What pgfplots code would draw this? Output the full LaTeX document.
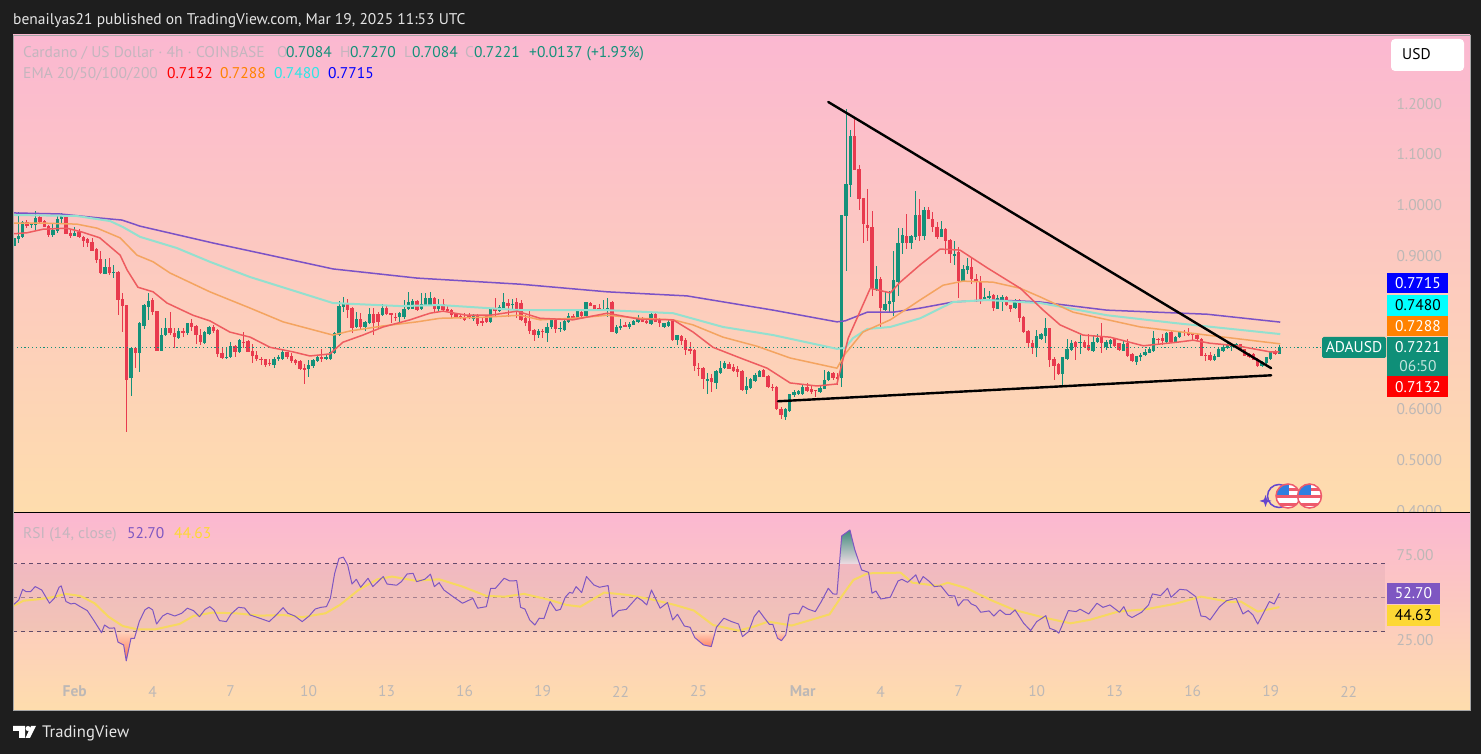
\documentclass[border=0pt]{standalone}
\usepackage{fontspec}
\setmainfont{PT Sans}
\usepackage{pgfplots}
\usepackage{pgfplotstable}
\pgfplotsset{compat=1.18}
\definecolor{bgdark}{HTML}{1E1E1E}
\definecolor{panetop}{HTML}{FBB8D1}
\definecolor{panebot}{HTML}{FEDDAD}
\definecolor{up}{HTML}{14917A}
\definecolor{down}{HTML}{E83A4E}
\definecolor{emaR}{HTML}{EE5C60}
\definecolor{emaO}{HTML}{F4A460}
\definecolor{emaC}{HTML}{93E0CF}
\definecolor{emaB}{HTML}{7B52C6}
\definecolor{rsiV}{HTML}{7E57C2}
\definecolor{rsiY}{HTML}{F7D860}
\definecolor{scaleT}{HTML}{BDB8B6}
\definecolor{legT}{HTML}{C4B6BE}
\definecolor{lastG}{HTML}{0F8F78}
\definecolor{flagR}{HTML}{EE5A6C}
\definecolor{flagB}{HTML}{2F7FE0}
\definecolor{badgeC}{HTML}{00FFFF}
\definecolor{badgeO}{HTML}{FF8200}
\definecolor{badgeB}{HTML}{0000FF}
\definecolor{badgeR}{HTML}{FF0000}
\definecolor{badgeY}{HTML}{FDD835}
\definecolor{legC}{HTML}{2CE6E6}
\newcommand\tf{\fontsize{15.5}{18}\selectfont}
\pgfplotstableread{
o h l c
.922 .957 .905 .936
.934 .987 .926 .941
.939 .970 .936 .969
.969 .972 .956 .961
.962 .967 .957 .965
.962 .990 .952 .977
.978 .982 .964 .969
.971 .972 .958 .959
.961 .962 .939 .943
.943 .965 .938 .952
.950 .979 .946 .975
.974 .985 .965 .982
.983 .983 .944 .945
.946 .952 .936 .941
.941 .958 .940 .946
.948 .954 .937 .938
.938 .941 .920 .931
.934 .937 .920 .926
.928 .936 .911 .912
.916 .918 .887 .893
.895 .911 .867 .868
.867 .895 .866 .879
.880 .898 .865 .868
.869 .884 .859 .870
.870 .872 .785 .815
.817 .828 .753 .804
.805 .805 .556 .658
.661 .723 .626 .720
.720 .723 .682 .711
.711 .772 .674 .769
.764 .808 .758 .805
.802 .828 .776 .813
.814 .819 .785 .791
.793 .794 .715 .715
.715 .759 .715 .747
.746 .779 .745 .759
.759 .791 .747 .750
.751 .759 .721 .742
.741 .759 .738 .754
.754 .759 .742 .751
.750 .770 .746 .769
.770 .777 .754 .762
.764 .766 .728 .746
.747 .758 .726 .732
.730 .754 .729 .753
.749 .764 .747 .762
.762 .766 .751 .754
.756 .757 .703 .709
.710 .723 .700 .701
.701 .721 .699 .703
.703 .733 .701 .724
.725 .726 .703 .712
.712 .738 .711 .736
.733 .753 .721 .732
.734 .736 .713 .713
.715 .728 .692 .705
.707 .715 .695 .699
.700 .703 .687 .699
.699 .700 .684 .688
.692 .699 .686 .690
.688 .703 .682 .699
.699 .707 .695 .702
.699 .716 .698 .712
.712 .713 .699 .702
.705 .710 .692 .696
.697 .700 .687 .692
.696 .698 .677 .679
.681 .690 .650 .679
.679 .697 .664 .687
.685 .699 .682 .698
.695 .707 .694 .702
.702 .718 .694 .699
.699 .707 .697 .702
.699 .723 .698 .712
.710 .753 .709 .751
.746 .813 .745 .804
.801 .821 .792 .809
.808 .817 .779 .795
.800 .802 .751 .760
.761 .792 .759 .778
.778 .789 .756 .761
.761 .774 .754 .771
.769 .800 .767 .787
.787 .800 .746 .769
.787 .791 .759 .771
.785 .808 .783 .800
.800 .805 .785 .787
.789 .789 .769 .787
.782 .789 .774 .781
.781 .792 .772 .789
.782 .815 .778 .798
.797 .830 .796 .812
.798 .817 .797 .813
.813 .815 .793 .795
.797 .828 .796 .807
.805 .828 .804 .818
.805 .830 .804 .819
.819 .821 .791 .798
.798 .817 .792 .808
.808 .817 .792 .795
.797 .804 .792 .793
.795 .797 .779 .785
.787 .789 .781 .782
.784 .787 .777 .779
.781 .789 .774 .776
.784 .789 .777 .783
.778 .787 .774 .784
.784 .787 .764 .768
.774 .779 .763 .771
.784 .785 .770 .771
.771 .800 .770 .797
.797 .818 .784 .795
.793 .805 .792 .801
.798 .828 .797 .812
.810 .817 .782 .804
.807 .817 .798 .808
.812 .818 .779 .793
.810 .815 .774 .776
.779 .785 .764 .769
.774 .798 .748 .755
.756 .758 .735 .746
.746 .757 .741 .755
.755 .757 .741 .753
.751 .769 .733 .762
.762 .777 .757 .776
.776 .776 .751 .757
.758 .772 .753 .760
.757 .776 .755 .774
.771 .789 .770 .783
.783 .787 .776 .782
.779 .795 .778 .793
.791 .795 .782 .783
.783 .812 .782 .811
.810 .812 .803 .804
.805 .806 .797 .798
.800 .807 .794 .795
.795 .815 .794 .797
.798 .818 .781 .800
.812 .813 .752 .753
.751 .766 .749 .762
.759 .777 .756 .764
.765 .772 .761 .762
.761 .772 .757 .768
.766 .776 .765 .774
.772 .785 .770 .779
.779 .781 .771 .772
.774 .777 .768 .769
.768 .789 .766 .787
.787 .789 .771 .772
.776 .779 .761 .769
.761 .770 .760 .769
.764 .776 .762 .771
.776 .777 .735 .736
.736 .747 .726 .746
.745 .746 .726 .735
.736 .741 .707 .717
.719 .733 .709 .715
.717 .718 .675 .685
.682 .692 .666 .681
.682 .683 .641 .659
.658 .672 .631 .659
.661 .669 .635 .653
.651 .677 .641 .676
.672 .696 .669 .682
.681 .696 .680 .692
.690 .694 .679 .680
.684 .689 .674 .676
.680 .685 .663 .673
.676 .677 .637 .638
.638 .664 .630 .646
.643 .661 .641 .659
.655 .671 .654 .668
.664 .677 .663 .675
.677 .679 .663 .664
.665 .667 .643 .645
.645 .650 .637 .643
.645 .646 .599 .600
.600 .604 .582 .589
.586 .602 .580 .600
.596 .631 .595 .630
.628 .638 .625 .635
.631 .639 .629 .636
.630 .648 .629 .644
.645 .652 .635 .637
.640 .648 .631 .635
.638 .639 .625 .637
.635 .646 .633 .643
.641 .677 .640 .658
.658 .675 .656 .673
.671 .674 .658 .661
.664 .672 .648 .661
.661 .982 .645 .981
.979 1.191 .871 1.042
1.041 1.149 1.018 1.137
1.137 1.175 1.070 1.070
1.072 1.081 .992 1.013
1.016 1.016 .927 .965
.963 1.034 .931 .957
.958 .990 .823 .838
.834 .881 .833 .857
.857 .861 .759 .800
.795 .833 .794 .808
.807 .833 .792 .813
.812 .911 .784 .854
.851 .956 .823 .927
.926 .956 .905 .943
.941 .983 .916 .926
.926 .943 .916 .941
.939 1.029 .933 .982
.982 1.013 .931 .941
.941 .998 .933 .991
.991 .998 .974 .975
.975 .988 .949 .958
.959 .969 .935 .939
.939 .970 .938 .954
.954 .956 .905 .931
.933 .935 .887 .905
.902 .931 .884 .906
.910 .920 .818 .853
.853 .884 .851 .876
.874 .897 .867 .881
.880 .898 .846 .856
.857 .867 .812 .852
.852 .863 .808 .816
.816 .838 .815 .821
.819 .832 .817 .823
.825 .826 .794 .800
.798 .825 .797 .818
.815 .825 .793 .821
.821 .822 .804 .805
.805 .806 .792 .798
.800 .817 .798 .815
.815 .816 .772 .779
.781 .783 .751 .753
.755 .756 .721 .730
.731 .736 .709 .720
.720 .756 .702 .744
.738 .751 .736 .748
.745 .779 .730 .759
.759 .759 .684 .698
.700 .702 .658 .686
.690 .692 .667 .669
.669 .703 .648 .702
.700 .738 .698 .718
.717 .736 .715 .731
.732 .735 .697 .723
.731 .746 .708 .732
.732 .736 .720 .723
.726 .748 .715 .717
.714 .746 .713 .732
.732 .748 .731 .741
.743 .770 .711 .730
.722 .736 .717 .732
.728 .738 .720 .736
.738 .739 .723 .724
.730 .731 .715 .717
.715 .735 .714 .728
.730 .738 .703 .705
.709 .710 .694 .695
.694 .705 .687 .704
.702 .711 .696 .707
.706 .718 .704 .712
.711 .722 .710 .718
.715 .755 .713 .740
.739 .740 .728 .736
.740 .749 .726 .734
.732 .753 .731 .751
.752 .756 .730 .732
.732 .744 .731 .743
.743 .753 .741 .752
.752 .756 .744 .751
.752 .759 .745 .747
.749 .751 .736 .747
.747 .749 .735 .738
.739 .740 .704 .705
.707 .711 .696 .705
.707 .713 .696 .697
.698 .709 .696 .705
.703 .722 .702 .718
.715 .726 .713 .723
.721 .730 .718 .726
.723 .731 .715 .728
.724 .731 .720 .728
.728 .728 .717 .718
.718 .719 .704 .705
.709 .711 .701 .703
.709 .710 .697 .698
.700 .701 .683 .686
.686 .695 .683 .694
.692 .703 .690 .702
.700 .714 .698 .713
.713 .717 .707 .708
.7084 .7270 .7084 .7221
}\candles
\pgfplotsset{
  cbar/.style n args={2}{draw=none,mark=none,forget plot,
    error bars/.cd,y dir=both,y explicit,error mark=none,
    error bar style={solid,line width=#1,draw=#2}},
  upc/.style={restrict expr to domain={\thisrow{c}-\thisrow{o}}{0:10}},
  dnc/.style={restrict expr to domain={\thisrow{c}-\thisrow{o}}{-10:-0.00001}},
}
\begin{document}
\begin{tikzpicture}[mw/.style={anchor=mid west,inner sep=0,yshift=-2.5pt}]
\fill[bgdark] (0pt,0pt) rectangle (1481pt,754pt);
\shade[top color=panetop,bottom color=panebot] (13pt,241pt) rectangle (1470pt,719pt);
\begin{axis}[
  at={(13pt,241pt)},anchor=south west,scale only axis,width=1373pt,height=478pt,
  xmin=-0.23,xmax=316.6,ymin=.3965,ymax=1.3356,
  axis line style={draw=none},tick style={draw=none},major tick length=0pt,
  xtick=\empty,
  ytick={.4,.5,.6,.7,.8,.9,1,1.1,1.2},yticklabel pos=right,
  yticklabels={0.4000,0.5000,0.6000,,,0.9000,1.0000,1.1000,1.2000},
  yticklabel style={font=\tf,text=scaleT,anchor=mid west,xshift=7pt,yshift=-2.5pt},
]
% wicks and bodies
\addplot[upc,cbar={1pt}{up}]
  table[x expr=\coordindex,y expr={(\thisrow{h}+\thisrow{l})/2},y error expr={(\thisrow{h}-\thisrow{l})/2}] {\candles};
\addplot[dnc,cbar={1pt}{down}]
  table[x expr=\coordindex,y expr={(\thisrow{h}+\thisrow{l})/2},y error expr={(\thisrow{h}-\thisrow{l})/2}] {\candles};
\addplot[upc,cbar={3.3pt}{up}]
  table[x expr=\coordindex,y expr={(\thisrow{o}+\thisrow{c})/2},y error expr={(\thisrow{c}-\thisrow{o})/2}] {\candles};
\addplot[dnc,cbar={3.3pt}{down}]
  table[x expr=\coordindex,y expr={(\thisrow{o}+\thisrow{c})/2},y error expr={(\thisrow{o}-\thisrow{c})/2}] {\candles};
% last price
\addplot[up,line width=.9pt,dash pattern=on 1.2pt off 2.6pt] coordinates {(-0.23,.7221)(316.6,.7221)};
% EMA 200
\addplot[emaB,line width=1.5pt,line join=round] coordinates {(-0.2,.986)(10.6,.984)(19.8,.976)(24.9,.972)(29.1,.960)(45.9,.927)(59,.903)(73.6,.876)(93,.858)(116.8,.846)(136.9,.831)(155.3,.823)(175.2,.795)(189.9,.772)(191.8,.774)(196.9,.791)(202.9,.791)(209.1,.799)(216.7,.811)(224.6,.815)(232.2,.813)(236.8,.811)(252.2,.795)(275.3,.787)(292.2,.7715)};
% EMA 100
\addplot[emaC,line width=2pt,line join=round] coordinates {(-0.2,.982)(14.5,.980)(22.2,.970)(25.2,.958)(29.1,.939)(37.6,.917)(45.2,.890)(54.5,.860)(73.6,.809)(89.1,.803)(98.3,.805)(116.8,.795)(136.9,.795)(152.1,.789)(163.6,.762)(175.2,.746)(189.9,.719)(191.8,.721)(193.6,.740)(196.9,.758)(202.2,.762)(209.1,.779)(216.7,.811)(224.6,.815)(232.2,.811)(236.8,.809)(252.2,.785)(267.5,.770)(292.2,.748)};
% EMA 50
\addplot[emaO,line width=1.5pt,line join=round] coordinates {(-0.2,.966)(6.7,.966)(14.5,.964)(19.2,.956)(24.5,.937)(28.4,.903)(32.1,.890)(36,.868)(45.2,.831)(54.5,.799)(62.1,.772)(73.6,.746)(77.5,.754)(85.2,.764)(93,.772)(98.3,.779)(108.2,.781)(116.8,.785)(121.4,.776)(129,.779)(136.9,.785)(144.5,.779)(152.1,.776)(156.7,.766)(163.6,.742)(171.5,.724)(179.1,.701)(189.9,.681)(191.8,.709)(195.9,.752)(202.2,.776)(209.1,.815)(214.4,.844)(219,.852)(225.9,.850)(232.2,.838)(236.8,.821)(244.4,.791)(259.9,.762)(275.3,.746)(292.2,.7288)};
% EMA 20
\addplot[emaR,line width=1.5pt,line join=round] coordinates {(-0.2,.945)(3,.947)(6.7,.954)(12.2,.956)(15.9,.948)(19.8,.937)(24.5,.903)(26.1,.874)(28.6,.840)(32.1,.831)(35.3,.809)(41.3,.785)(45.2,.774)(49.8,.752)(54.5,.742)(59.1,.722)(64.4,.713)(68.3,.705)(72.9,.709)(75.9,.732)(80.5,.746)(85.2,.762)(91.4,.776)(96,.789)(99,.793)(104.5,.785)(109.9,.785)(116.1,.793)(121.4,.779)(129,.776)(136.9,.789)(144.5,.777)(152.1,.776)(156.7,.752)(161.3,.722)(167.6,.701)(173.8,.681)(179.1,.652)(185.3,.646)(189.9,.650)(192.5,.740)(197.6,.838)(202.2,.829)(204.5,.850)(209.1,.884)(213.7,.915)(218.3,.913)(224.6,.878)(232.2,.838)(237.5,.795)(241.4,.766)(246.7,.746)(252.9,.742)(260.6,.725)(268.4,.732)(272.1,.736)(276,.730)(282.2,.725)(289.9,.713)(292,.7132)};
% trend lines
\addplot[black,line width=2.4pt,line cap=round] coordinates {(187.9,1.204)(290.1,.681)};
\addplot[black,line width=2.4pt,line cap=round] coordinates {(176.3,.616)(290.1,.667)};
\end{axis}
\shade[top color=panetop,bottom color=panebot] (13pt,44pt) rectangle (1470pt,240pt);
\begin{axis}[
  at={(13pt,44pt)},anchor=south west,scale only axis,width=1373pt,height=196pt,
  xmin=-0.23,xmax=316.6,ymin=-15.88,ymax=99.41,
  axis line style={draw=none},tick style={draw=none},major tick length=0pt,
  xtick={14,32,50,68,86,104,122,140,158,182,200,218,236,254,272,290,308},
  xticklabels={\textbf{Feb},4,7,10,13,16,19,22,25,\textbf{Mar},4,7,10,13,16,19,22},
  xticklabel style={font=\tf,text=scaleT,anchor=center,yshift=18.5pt},
  ytick={25,75},yticklabel pos=right,
  yticklabels={25.00,75.00},
  yticklabel style={font=\tf,text=scaleT,anchor=mid west,xshift=7pt,yshift=-2.5pt},
]
% RSI band
\addplot[draw=none,fill=rsiV!45!black,fill opacity=.055] coordinates {(-0.23,30)(316.4,30)(316.4,70)(-0.23,70)} --cycle;
\addplot[color=black!60!rsiV,line width=1pt,dash pattern=on 4pt off 4pt,opacity=.75] coordinates {(-0.23,70)(316.4,70)};
\addplot[color=black!60!rsiV,line width=1pt,dash pattern=on 4pt off 4pt,opacity=.4] coordinates {(-0.23,50)(316.4,50)};
\addplot[color=black!60!rsiV,line width=1pt,dash pattern=on 4pt off 4pt,opacity=.75] coordinates {(-0.23,30)(316.4,30)};
% overbought / oversold fills
\addplot[draw=none,top color=up!60!gray,bottom color=panetop!70!gray!40!white] coordinates {(190.5,70)(191,86.5)(192.9,90)(194,78.6)(195.1,70)} --cycle;
\addplot[draw=none,top color=panebot!80!red!60!white,bottom color=red!60!orange!70!white] coordinates {(23.4,30)(24,24)(25.3,22.4)(25.9,13)(27,26.3)(27.8,26.3)(28.2,30)} --cycle;
\addplot[draw=none,top color=panebot!80!red!60!white,bottom color=red!60!orange!60!white] coordinates {(156.6,30)(157.1,26.7)(159.1,22.4)(160.9,21.4)(161.7,30)} --cycle;
\addplot[draw=none,top color=panebot!80!red!60!white,bottom color=red!60!orange!50!white] coordinates {(175.6,30)(176.2,26.3)(177.1,24.9)(178.1,28.3)(178.2,30)} --cycle;
% RSI based MA
\addplot[rsiY,line width=2pt,line join=round] coordinates {(0,45.5)(2.2,48.4)(5.5,49.2)(8.7,50.4)(12,52.4)(15.3,51.2)(18.6,46.9)(21.8,39)(25.1,33.5)(28.4,31.6)(32.7,31.6)(38.2,34.7)(41.4,39.4)(45.8,41.4)(51.2,41)(56.7,39.6)(62.1,40)(66.5,38.7)(71.9,41)(75.2,45.9)(79.5,54.7)(83.9,61)(87.2,62.6)(92.6,60.2)(98.1,61)(103.5,56.7)(109,51.2)(113.3,50.8)(117.7,52.4)(123.1,49.2)(127.5,45.9)(130.7,44.9)(136.2,53.2)(141.6,51.8)(147.1,49.2)(152.5,45.9)(156.9,42.6)(161.3,34.1)(167.2,30.8)(170.8,33.2)(174,36.1)(179.5,33.8)(183.9,37.1)(188.2,40.4)(190.4,48.8)(193.7,60.6)(197,64.5)(204.6,64.9)(207.3,59)(213.3,57.1)(215.5,59)(219.9,55.7)(225.3,48.9)(230.8,43)(237.3,38.7)(243.8,35.1)(248.2,37.1)(254.8,42)(261.3,43.4)(267.8,46.5)(273.9,50.8)(281,47.5)(283.1,47.9)(287,42)(292,44.63)};
% RSI
\addplot[rsiV,line width=1pt,line join=round] coordinates {(0,46.3)(1.1,48.8)(2,55.1)(2.8,53.7)(3.8,53.7)(4.9,56.7)(6.4,54.7)(7.3,50.8)(8.2,46.9)(9.3,49.8)(10.4,56.3)(10.9,57.1)(12,47.9)(13.1,46.5)(14,46.9)(15.3,44.9)(16.9,42.6)(18.6,36.1)(20.2,29.6)(20.9,34.1)(22,32.2)(23.2,32.4)(24,24)(25.3,22.4)(25.9,13)(27,26.3)(27.8,26.3)(28.9,36.1)(30.2,43)(31.1,44.5)(32,43)(32.9,34.7)(34.3,39.4)(35.4,41)(37.1,39.4)(38.7,41)(40,44)(41.4,42.6)(42.8,39)(44.1,43.3)(45.2,44.9)(46.1,43)(47.4,36.7)(49,36.1)(50.1,40.6)(51.8,44.5)(53.2,44.1)(54.5,40)(56.7,38.1)(58.9,36.1)(60.5,40)(62.1,44.3)(63.2,41)(64.8,39.4)(66.5,36.1)(68.1,39.4)(69.5,43.5)(70.8,44.5)(72.1,44.9)(73,49.8)(74,64.5)(75,73.3)(76,74)(77,69.4)(78,58.2)(79,61)(80,56.3)(81.7,61.6)(82.8,56.7)(85.2,62.6)(86.1,58.2)(88.3,57.5)(89.4,59.6)(90.7,64.1)(92.1,64.5)(92.9,59.6)(94.8,61)(96.1,64)(97,56.7)(98.1,59)(99.2,54.7)(101.3,50.8)(103.5,46.9)(105.9,49.8)(107,44)(109,44.9)(110,55.7)(111.1,55.7)(113.1,61.6)(114.4,60)(116,60.2)(116.9,44.5)(117.9,43.5)(119,37.1)(120.2,34.1)(121.2,38.1)(122.3,37.9)(123.7,47.9)(125.1,42.6)(126.1,43.3)(127.2,50.4)(128.2,53.3)(128.9,52.8)(129.7,56.7)(131,53.2)(132.1,62.6)(133.8,57.7)(135.1,56.3)(137.1,57.3)(138.1,39)(139.5,42.6)(141.3,43.3)(143.8,50.4)(145,48.4)(146,45.9)(147.1,54.7)(149.1,44)(150.8,47.3)(152,37.1)(153.1,40.4)(154.7,33.5)(156,32.8)(157.1,26.7)(159.1,22.4)(160.9,21.4)(162.1,32.8)(163.8,38.1)(165.6,36.1)(167.2,34.7)(168.1,27.3)(169.5,30.2)(170.8,39)(171.9,42.6)(173.2,38.1)(174.3,34.5)(175.1,34.5)(176.2,26.3)(177.1,24.9)(178.1,28.3)(178.9,40.4)(180,41)(181.1,40.6)(182,45.3)(183.3,43.4)(184.9,42)(186.3,47.9)(187.9,55.7)(189,52.4)(189.9,52.2)(191,86.5)(192.9,90)(194,78.6)(195.6,66.5)(197.2,65.1)(198,52.8)(198.9,54.1)(200,49.4)(202.2,50.4)(204,60)(204.9,61)(206.2,59.2)(208.1,63.6)(208.9,58.6)(209.8,62.6)(211.1,60)(212.4,56.7)(213.9,57.1)(215.7,51.4)(217.1,51.2)(217.9,45.3)(219.1,48.9)(220.1,48.9)(220.9,46.5)(222,45.3)(223.1,41.6)(225,42.4)(226.1,39.4)(227.5,43)(228.8,40.4)(229.9,40.4)(231,43)(233,35.1)(234.6,30.8)(236,36.1)(238.1,39.6)(239,32.2)(240.4,30.8)(241.1,29.3)(243.3,42.6)(245.1,42)(246,43.4)(248,40.6)(249.9,46.9)(251.3,44.5)(252.9,45.9)(255.1,41.6)(256.1,44.9)(257,40)(258,38.5)(260.2,41.6)(261.8,45.9)(262.7,52.4)(264.6,51.4)(266.2,55.7)(267,50.4)(269,55.1)(270.6,54.7)(272.7,50.8)(273.9,39.4)(275,39)(276,37.1)(278.2,44.9)(279.8,48.4)(282,49.8)(283.6,40.6)(284.8,42.6)(285.9,40)(287,34.7)(289.7,47.9)(290.8,46.5)(292,52.7)};
\end{axis}
\begin{scope}[x=1pt,y=1pt,font=\tf]
\draw[black,line width=1pt] (13,241) -- (1470,241);
\draw[gray!70,line width=.8pt] (13,44) rectangle (1470,719);
% title and footer
\node[mw,text=white!90!black] at (13,734) {benailyas21 published on TradingView.com, Mar 19, 2025 11:53 UTC};
\fill[white] (13,28) -- (25,28) -- (25,16) -- (19,16) -- (19,23) -- (13,23) -- cycle;
\fill[white] (28,25.5) circle (2.5);
\fill[white] (31,28) -- (36,28) -- (30,16) -- (25.5,16) -- cycle;
\node[mw,text=white!90!black,font=\fontsize{16.6}{19}\selectfont] at (42,21) {TradingView};
% legend
\node[mw,text=legT] at (23,701) {Cardano / US Dollar · 4h · COINBASE};
\node[mw,text=legT] at (277,701) {O};
\node[mw,text=up] at (286,701) {0.7084};
\node[mw,text=legT] at (340,701) {H};
\node[mw,text=up] at (350,701) {0.7270};
\node[mw,text=legT] at (404,701) {L};
\node[mw,text=up] at (412,701) {0.7084};
\node[mw,text=legT] at (465,701) {C};
\node[mw,text=up] at (474,701) {0.7221};
\node[mw,text=up] at (529,701) {+0.0137 (+1.93\%)};
\node[mw,text=legT] at (23,680) {EMA 20/50/100/200};
\node[mw,text=badgeR] at (167,680) {0.7132};
\node[mw,text=badgeO] at (220,680) {0.7288};
\node[mw,text=legC] at (274,680) {0.7480};
\node[mw,text=badgeB] at (328,680) {0.7715};
\node[mw,text=legT] at (23,220) {RSI (14, close)};
\node[mw,text=rsiV] at (127,220) {52.70};
\node[mw,text=badgeY] at (174,220) {44.63};
% USD button
\fill[white,rounded corners=4pt] (1391,683) rectangle (1464,715);
\node[mw,text=black] at (1402,699) {USD};
% price badges
\fill[badgeB] (1387,461) rectangle (1448,481);
\node[text=white] at (1418,471) {0.7715};
\fill[badgeC] (1387,438) rectangle (1448,459);
\node[text=black] at (1418,449) {0.7480};
\fill[badgeO] (1387,418) rectangle (1448,438);
\node[text=white] at (1418,428) {0.7288};
\fill[lastG] (1387,378) rectangle (1448,417);
\node[text=white] at (1418,407) {0.7221};
\node[text=white!75!lastG] at (1418,388) {06:50};
\fill[badgeR] (1387,357) rectangle (1448,378);
\node[text=white] at (1418,367) {0.7132};
\fill[lastG,rounded corners=1.5pt] (1322,396) rectangle (1386,417);
\node[text=white] at (1354,406.5) {ADAUSD};
\fill[rsiV] (1387,150) rectangle (1440,171);
\node[text=white] at (1413.5,160.5) {52.70};
\fill[badgeY] (1387,128) rectangle (1440,149);
\node[text=black] at (1413.5,138.5) {44.63};
% event icons
\draw[rsiV!80!blue,line width=1.5pt] (1279,258) circle (11.5);
\fill[rsiV!80!blue] (1265.5,259) -- (1267,254.5) -- (1271.5,253) -- (1267,251.5) -- (1265.5,247) -- (1264,251.5) -- (1259.5,253) -- (1264,254.5) -- cycle;
\foreach \cx in {1288,1309.5}{
  \fill[white] (\cx,258) circle (12);
  \begin{scope}
    \clip (\cx,258) circle (12);
    \fill[flagB] (\cx-12,258) rectangle (\cx+1,270);
    \fill[flagR] (\cx-12,256) rectangle (\cx+12,259);
    \fill[flagR] (\cx+1,263) rectangle (\cx+12,265.5);
    \fill[flagR] (\cx-12,248) rectangle (\cx+12,251);
  \end{scope}
  \draw[flagR,line width=1.5pt] (\cx,258) circle (12);
}
\end{scope}
\end{tikzpicture}
\end{document}
